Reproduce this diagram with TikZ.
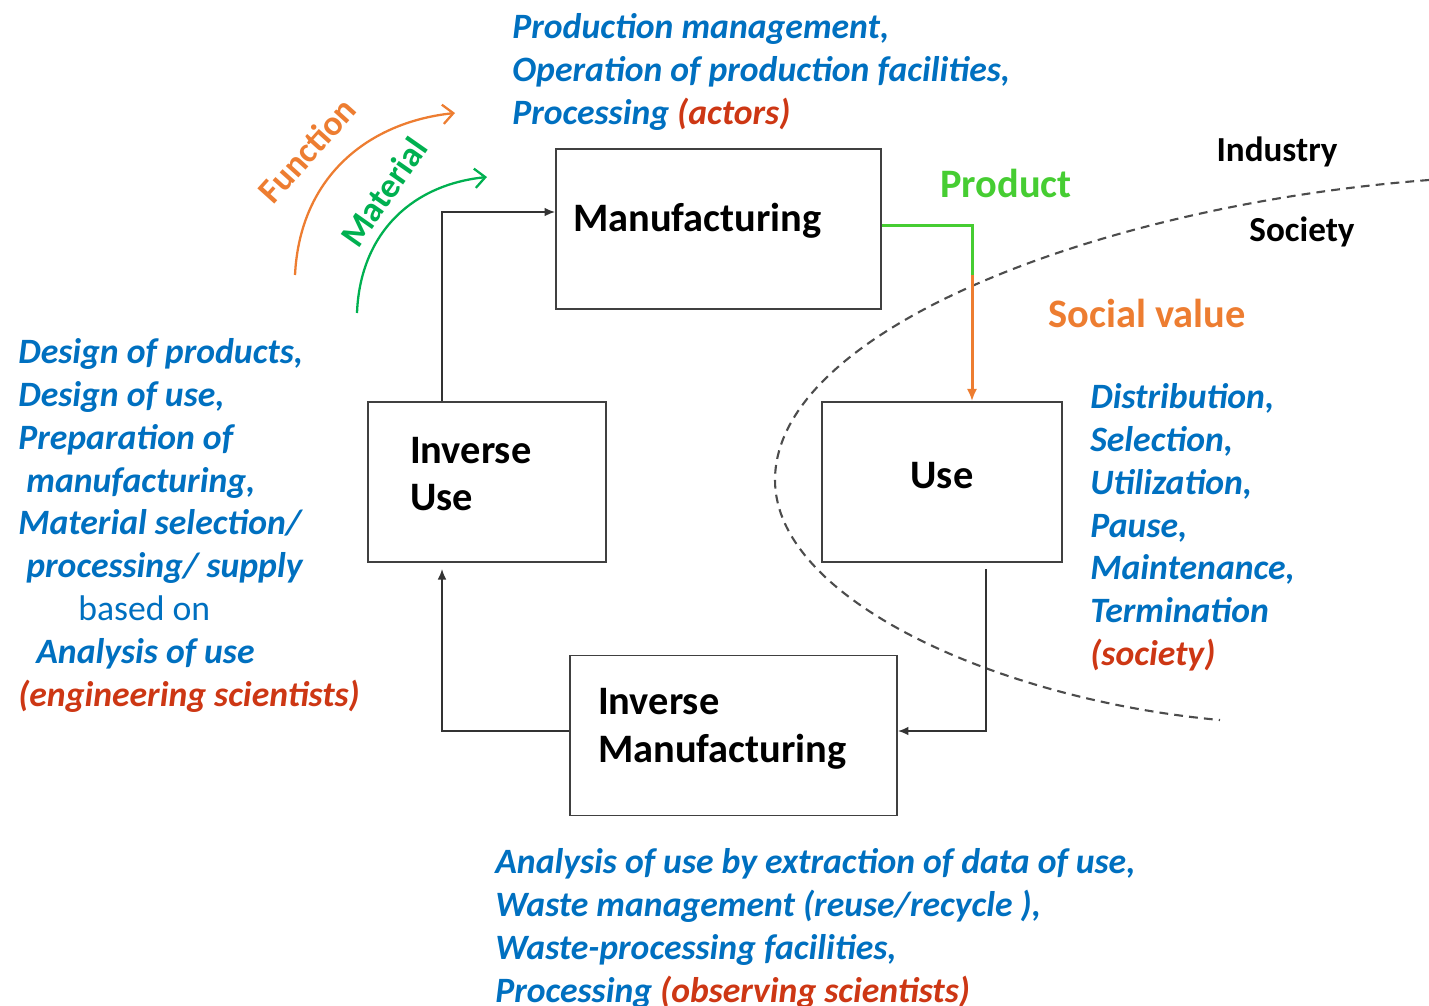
\documentclass[tikz,border=0pt]{standalone}
\usepackage{fontspec}
\setmainfont{Carlito}
\usetikzlibrary{arrows.meta,positioning,calc}
\definecolor{noteBlue}{RGB}{0,112,192}
\definecolor{noteRed}{RGB}{205,55,20}
\definecolor{flowOrange}{RGB}{237,125,49}
\definecolor{flowGreen}{RGB}{0,176,80}
\definecolor{productGreen}{RGB}{70,205,50}
\newcommand{\boxfont}{\fontsize{23}{27}\selectfont\bfseries}
\newcommand{\notefont}{\fontsize{20.3}{24.4}\selectfont\bfseries\itshape}
\newcommand{\actor}[1]{\textcolor{noteRed}{#1}}
\tikzset{
  box/.style={draw=black!75, line width=1.1pt, font=\boxfont, minimum height=3.2cm, inner sep=0pt},
  flow/.style={draw=black!80, line width=1pt, -{Latex[length=6pt,width=5pt]}},
  note/.style={anchor=north west, inner sep=0pt, align=left, font=\notefont, text=noteBlue},
  arc/.style={line width=1.3pt, -{Straight Barb[length=6pt,width=11pt]}},
  realm/.style={font=\fontsize{20}{24}\selectfont\bfseries},
  tag/.style={font=\fontsize{23}{27}\selectfont\bfseries},
}
\begin{document}
\begin{tikzpicture}[x=0.02cm, y=-0.02cm]
\useasboundingbox (0,0) rectangle (1429,1005);
% boxes
\node[box, minimum width=6.5cm, text width=5.82cm, align=left, text depth=13pt] (manuf) at (718.5,229) {Manufacturing};
\node[box, minimum width=4.76cm, text width=3.08cm, align=left, text depth=36pt] (invuse) at (487,482) {Inverse\\Use};
\node[box, minimum width=4.8cm, align=center, text depth=8pt] (use) at (942,482) {Use};
\node[box, minimum width=6.54cm, text width=5.42cm, align=left, text depth=38.5pt] (invmanuf) at (733.5,735.5) {Inverse\\Manufacturing};

% industry / society border
\draw[black!70, line width=1.2pt, dash pattern=on 5pt off 3.5pt]
  (1429,180) .. controls (1100,205) and (775,330) .. (775,480)
  .. controls (775,600) and (1000,700) .. (1220,720);
\node[realm] (industry) at (1277,152) {Industry};
\node[realm] (society) at (1302,232) {Society};

% cycle
\draw[flow] ([xshift=-0.9cm]invuse.north) |- ([yshift=0.34cm]manuf.west);
\coordinate (border) at (972,275);
\draw[productGreen, line width=1.7pt] ([yshift=0.08cm]manuf.east) -| (border);
\draw[flowOrange, line width=1.7pt, -{Latex[length=7pt,width=6pt]}] (border) -- (border |- use.north);
\draw[flow] ([xshift=0.88cm,yshift=-0.12cm]use.south) |- ([yshift=0.09cm]invmanuf.east);
\draw[flow] ([yshift=0.09cm]invmanuf.west) -| ([xshift=-0.9cm,yshift=-0.12cm]invuse.south);

\node[tag, text=productGreen] (product) at (1006,183) {Product};
\node[tag, text=flowOrange] (socval) at (1147,313) {Social value};

% function and material
\coordinate (fstart) at (295,275);
\coordinate (fend) at (455,113);
\coordinate (mstart) at (357,313);
\coordinate (mend) at (487,177);
\draw[arc, flowOrange] (fstart) .. controls (300,175) and (370,122) .. (fend);
\draw[arc, flowGreen] (mstart) .. controls (360,235) and (410,185) .. (mend);
\node[rotate=48, text=flowOrange, font=\fontsize{20}{24}\selectfont\bfseries] (function) at (307,150) {Function};
\node[rotate=55, text=flowGreen, font=\fontsize{20}{24}\selectfont\bfseries] (material) at (384,192) {Material};

% notes
\node[note] (manufnote) at (512,13) {Production management,\\Operation of production facilities,\\Processing \actor{(actors)}};
\node[note] (designnote) at (18,338) {Design of products,\\Design of use,\\Preparation of\\\hspace*{0.16cm}manufacturing,\\Material selection/\\\hspace*{0.16cm}processing/ supply\\\hspace*{1.2cm}{\mdseries\upshape based on}\\\hspace*{0.36cm}Analysis of use\\\actor{(engineering scientists)}};
\node[note] (usenote) at (1090,383) {Distribution,\\Selection,\\Utilization,\\Pause,\\Maintenance,\\Termination\\\actor{(society)}};
\node[note] (invnote) at (495,848) {Analysis of use by extraction of data of use,\\Waste management (reuse/recycle ),\\Waste-processing facilities,\\Processing \actor{(observing scientists)}};
\end{tikzpicture}
\end{document}
